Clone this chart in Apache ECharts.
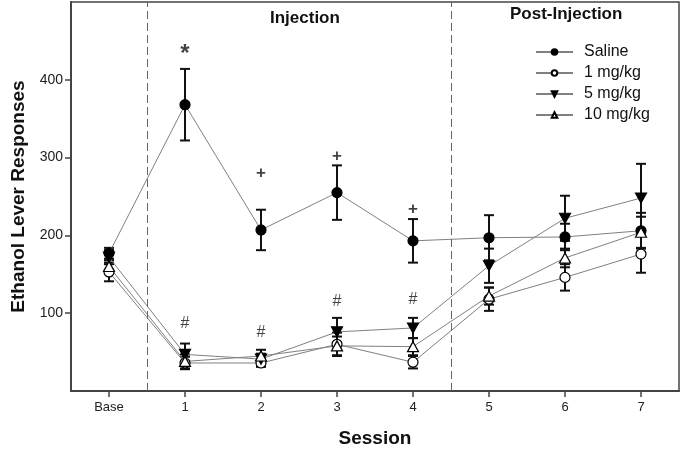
<!DOCTYPE html>
<html>
<head>
<meta charset="utf-8">
<script src="https://cdn.jsdelivr.net/npm/echarts@6/dist/echarts.min.js"></script>
<style>
  html, body { margin: 0; padding: 0; background: #fff; }
  #chart { width: 683px; height: 453px; }
</style>
</head>
<body>
<div id="chart"></div>
<script>
'use strict';

// sessions
var sessions = ['Base', '1', '2', '3', '4', '5', '6', '7'];
var yTicks = [100, 200, 300, 400];

// means and error bars per group
var salineMean = [177, 368, 207, 255, 193, 197, 198, 206];
var salineErr  = [7, 46, 26, 35, 28, 29, 17, 23];
var mg1Mean    = [153, 36, 36, 60, 37, 118, 146, 176];
var mg1Err     = [12, 8, 5, 15, 8, 15, 17, 24];
var mg5Mean    = [172, 47, 41, 76, 81, 161, 222, 248];
var mg5Err     = [9, 14, 7, 18, 13, 22, 29, 44];
var mg10Mean   = [160, 38, 45, 58, 57, 122, 171, 204];
var mg10Err    = [8, 9, 8, 12, 11, 11, 12, 20];

// significance marks
var markSession = [1, 2, 3, 4, 1, 2, 3, 4];
var markValue   = [438, 280, 302, 234, 87, 75, 115, 118];
var markText    = ['*', '+', '+', '+', '#', '#', '#', '#'];

var FONT = '"Liberation Sans", Arial, sans-serif';

function pts(arr) {
  return arr.map(function (v, i) { return [i, v]; });
}

function errData(mean, err) {
  return mean.map(function (v, i) { return [i, v - err[i], v + err[i]]; });
}

function errSeries(name, mean, err) {
  return {
    name: name + ' err',
    type: 'custom',
    z: 2,
    silent: true,
    data: errData(mean, err),
    renderItem: function (params, api) {
      var lo = api.coord([api.value(0), api.value(1)]);
      var hi = api.coord([api.value(0), api.value(2)]);
      var w = 5;
      var st = { stroke: '#111', lineWidth: 2 };
      return {
        type: 'group',
        children: [
          { type: 'line', shape: { x1: lo[0], y1: lo[1], x2: hi[0], y2: hi[1] }, style: st },
          { type: 'line', shape: { x1: lo[0] - w, y1: lo[1], x2: lo[0] + w, y2: lo[1] }, style: st },
          { type: 'line', shape: { x1: hi[0] - w, y1: hi[1], x2: hi[0] + w, y2: hi[1] }, style: st }
        ]
      };
    }
  };
}

function lineSeries(name, mean, symbol, fill, size) {
  return {
    name: name,
    type: 'line',
    z: 3,
    data: pts(mean),
    symbol: symbol,
    symbolSize: size,
    showAllSymbol: true,
    lineStyle: { color: '#808080', width: 1 },
    itemStyle: { color: fill, borderColor: '#000', borderWidth: 1.2 },
    emphasis: { disabled: true }
  };
}

function markStyle(t) {
  if (t === '*') return { fontSize: 24, fontWeight: 'bold', offset: [0, 4] };
  if (t === '+') return { fontSize: 17, fontWeight: 'bold', offset: [0, 0] };
  return { fontSize: 16, fontWeight: 'normal', offset: [0, 0] };
}

var chart = echarts.init(document.getElementById('chart'));

var series = [
  errSeries('Saline', salineMean, salineErr),
  errSeries('1 mg/kg', mg1Mean, mg1Err),
  errSeries('5 mg/kg', mg5Mean, mg5Err),
  errSeries('10 mg/kg', mg10Mean, mg10Err),
  lineSeries('Saline', salineMean, 'circle', '#000', 10),
  lineSeries('1 mg/kg', mg1Mean, 'circle', '#fff', 10),
  lineSeries('5 mg/kg', mg5Mean, 'path://M0,0 L10,0 L5,9 Z', '#000', [11, 10]),
  lineSeries('10 mg/kg', mg10Mean, 'triangle', '#fff', [11, 10]),
  {
    type: 'scatter',
    silent: true,
    symbolSize: 0,
    data: markSession.map(function (s, i) {
      var ms = markStyle(markText[i]);
      return {
        value: [s, markValue[i], markText[i]],
        label: { fontSize: ms.fontSize, fontWeight: ms.fontWeight, offset: ms.offset }
      };
    }),
    label: {
      show: true,
      position: 'inside',
      formatter: function (p) { return p.value[2]; },
      fontFamily: FONT,
      color: '#111'
    },
    markLine: {
      silent: true,
      symbol: 'none',
      label: { show: false },
      lineStyle: { color: '#666', width: 1, type: [8, 4] },
      data: [{ xAxis: 0.5 }, { xAxis: 4.5 }]
    }
  }
];

chart.setOption({
  animation: false,
  backgroundColor: '#fff',
  grid: {
    left: 71, right: 4, top: 2, bottom: 58,
    show: true, borderColor: '#444', borderWidth: 1.5
  },
  legend: {
    orient: 'vertical',
    left: 530, top: 39,
    itemWidth: 37, itemHeight: 7, itemGap: 5,
    data: ['Saline', '1 mg/kg', '5 mg/kg', '10 mg/kg'],
    textStyle: { fontFamily: FONT, fontSize: 16, color: '#111', padding: [0, 0, 0, 6] },
    selectedMode: false
  },
  xAxis: {
    type: 'value',
    min: -0.5, max: 7.5,
    name: 'Session',
    nameLocation: 'middle',
    nameGap: 38,
    nameTextStyle: { fontFamily: FONT, fontSize: 19, fontWeight: 'bold', color: '#111' },
    axisLine: { onZero: false, lineStyle: { color: '#444', width: 2 } },
    axisTick: { show: true, length: 6, customValues: [0, 1, 2, 3, 4, 5, 6, 7], lineStyle: { color: '#444', width: 1.5 } },
    axisLabel: {
      customValues: [0, 1, 2, 3, 4, 5, 6, 7],
      formatter: function (v) { return sessions[Math.round(v)]; },
      fontFamily: FONT, fontSize: 13, color: '#222', margin: 10
    },
    splitLine: { show: false }
  },
  yAxis: {
    type: 'value',
    min: 0, max: 500,
    name: 'Ethanol Lever Responses',
    nameLocation: 'middle',
    nameGap: 42,
    nameTextStyle: { fontFamily: FONT, fontSize: 19, fontWeight: 'bold', color: '#111' },
    axisLine: { show: true, onZero: false, lineStyle: { color: '#444', width: 2 } },
    axisTick: { show: true, length: 6, customValues: yTicks, lineStyle: { color: '#444', width: 1.5 } },
    axisLabel: { customValues: yTicks, fontFamily: FONT, fontSize: 14, color: '#222', margin: 8 },
    splitLine: { show: false }
  },
  graphic: [
    { type: 'text', left: 270, top: 10, style: { text: 'Injection', font: 'bold 17px ' + FONT, fill: '#111' } },
    { type: 'text', left: 510, top: 6, style: { text: 'Post-Injection', font: 'bold 17px ' + FONT, fill: '#111' } }
  ],
  series: series
});
</script>
</body>
</html>
